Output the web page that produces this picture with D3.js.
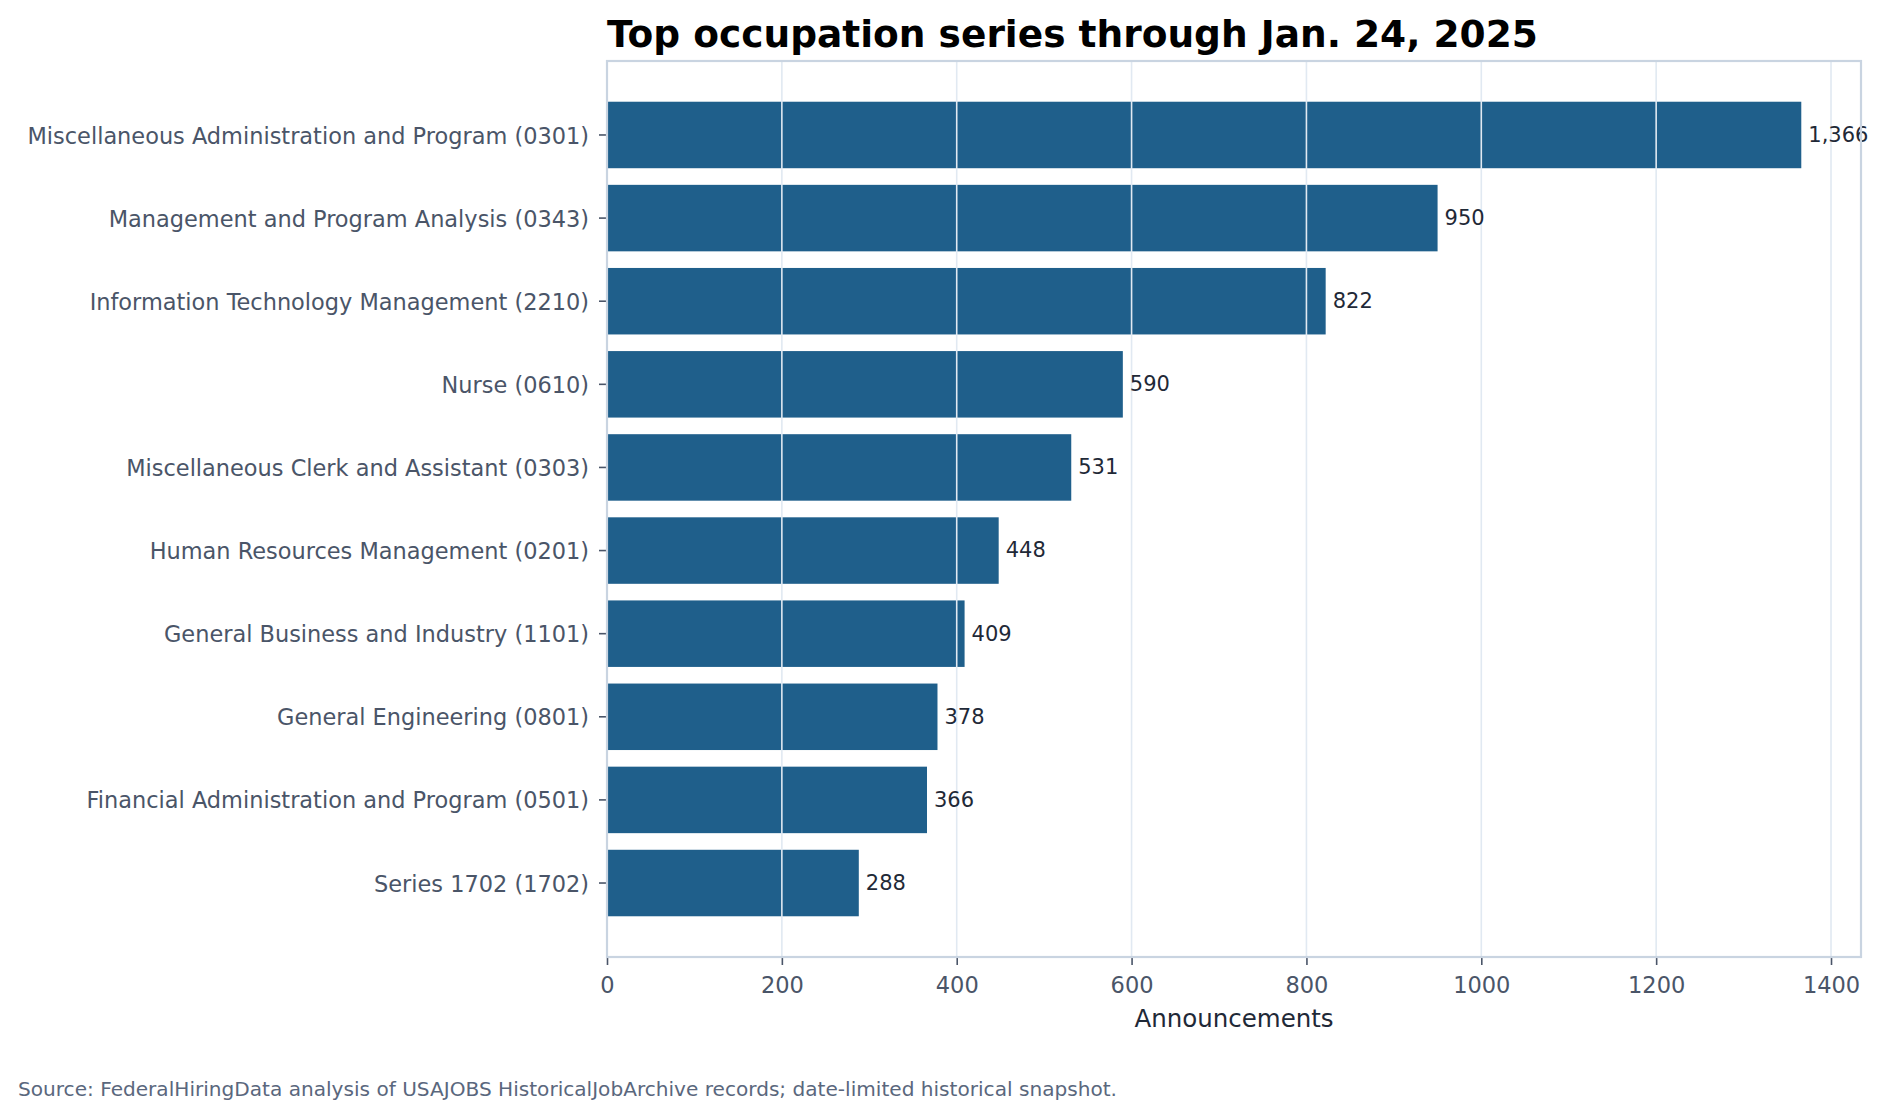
<!DOCTYPE html>
<html>
<head>
<meta charset="utf-8">
<script src="https://cdn.jsdelivr.net/npm/d3@7"></script>
<style>
  html, body { margin: 0; padding: 0; background: #fff; }
  svg text { font-family: "DejaVu Sans", sans-serif; }
</style>
</head>
<body>
<svg id="chart" width="1888" height="1117"></svg>
<script>
// data
var categories = [
    "Miscellaneous Administration and Program (0301)",
    "Management and Program Analysis (0343)",
    "Information Technology Management (2210)",
    "Nurse (0610)",
    "Miscellaneous Clerk and Assistant (0303)",
    "Human Resources Management (0201)",
    "General Business and Industry (1101)",
    "General Engineering (0801)",
    "Financial Administration and Program (0501)",
    "Series 1702 (1702)"
];
var announcements = [1366, 950, 822, 590, 531, 448, 409, 378, 366, 288];
var xTicks = [0, 200, 400, 600, 800, 1000, 1200, 1400];

var titleText = "Top occupation series through Jan. 24, 2025";
var xLabel = "Announcements";
var sourceText = "Source: FederalHiringData analysis of USAJOBS HistoricalJobArchive records; date-limited historical snapshot.";

var BAR_COLOR = "#1f5f8b";
var GRID_COLOR = "#e1e9f2";
var SPINE_COLOR = "#c9d4e1";
var TICK_COLOR = "#4a5568";

var PLOT_LEFT = 607, PLOT_RIGHT = 1861, PLOT_TOP = 61, PLOT_BOTTOM = 957;

var svg = d3.select("#chart");

var x = d3.scaleLinear()
    .domain([0, d3.max(announcements) * 1.05])
    .range([PLOT_LEFT, PLOT_RIGHT]);

var y = d3.scaleBand()
    .domain(categories)
    .range([PLOT_TOP, PLOT_BOTTOM])
    .paddingInner(0.2)
    .paddingOuter(0.49);

// bars
svg.append("g")
    .selectAll("rect")
    .data(announcements)
    .enter()
    .append("rect")
    .attr("x", x(0))
    .attr("y", function (d, i) { return y(categories[i]); })
    .attr("width", function (d) { return x(d) - x(0); })
    .attr("height", y.bandwidth())
    .attr("fill", BAR_COLOR);

// grid sits on top of the bars
svg.append("g")
    .selectAll("line")
    .data(xTicks)
    .enter()
    .append("line")
    .attr("x1", function (d) { return x(d); })
    .attr("x2", function (d) { return x(d); })
    .attr("y1", PLOT_TOP)
    .attr("y2", PLOT_BOTTOM)
    .attr("stroke", GRID_COLOR)
    .attr("stroke-width", 1.6);

// value labels
var fmt = d3.format(",");
svg.append("g")
    .selectAll("text")
    .data(announcements)
    .enter()
    .append("text")
    .attr("x", function (d) { return x(d) + 7; })
    .attr("y", function (d, i) { return y(categories[i]) + y.bandwidth() / 2; })
    .attr("dy", "0.33em")
    .attr("font-size", 21)
    .attr("fill", "#1f2937")
    .text(function (d) { return fmt(d); });

// x axis
var xAxis = svg.append("g")
    .attr("transform", "translate(0," + PLOT_BOTTOM + ")")
    .call(d3.axisBottom(x).tickValues(xTicks).tickFormat(d3.format("d"))
        .tickSize(8).tickPadding(12));
xAxis.select(".domain").remove();
xAxis.selectAll(".tick line").attr("stroke", TICK_COLOR).attr("stroke-width", 1.6);
xAxis.selectAll(".tick text")
    .attr("font-size", 22.5)
    .attr("fill", TICK_COLOR)
    .attr("font-family", "DejaVu Sans");

// y axis
var yAxis = svg.append("g")
    .attr("transform", "translate(" + PLOT_LEFT + ",0)")
    .call(d3.axisLeft(y).tickSize(8).tickPadding(10));
yAxis.select(".domain").remove();
yAxis.selectAll(".tick line").attr("stroke", TICK_COLOR).attr("stroke-width", 1.6);
yAxis.selectAll(".tick text")
    .attr("font-size", 22.45)
    .attr("dy", "0.38em")
    .attr("fill", TICK_COLOR)
    .attr("font-family", "DejaVu Sans");

// frame
svg.append("rect")
    .attr("x", PLOT_LEFT)
    .attr("y", PLOT_TOP)
    .attr("width", PLOT_RIGHT - PLOT_LEFT)
    .attr("height", PLOT_BOTTOM - PLOT_TOP)
    .attr("fill", "none")
    .attr("stroke", SPINE_COLOR)
    .attr("stroke-width", 2.2);

// title
svg.append("text")
    .attr("x", PLOT_LEFT)
    .attr("y", 47)
    .attr("font-size", 37.5)
    .attr("font-weight", "bold")
    .attr("fill", "#000")
    .text(titleText);

// axis label
svg.append("text")
    .attr("x", (PLOT_LEFT + PLOT_RIGHT) / 2)
    .attr("y", 1027)
    .attr("text-anchor", "middle")
    .attr("font-size", 24.5)
    .attr("fill", "#1f2937")
    .text(xLabel);

// source note
svg.append("text")
    .attr("x", 18)
    .attr("y", 1096)
    .attr("font-size", 20.1)
    .attr("fill", "#5a677d")
    .text(sourceText);
</script>
</body>
</html>
